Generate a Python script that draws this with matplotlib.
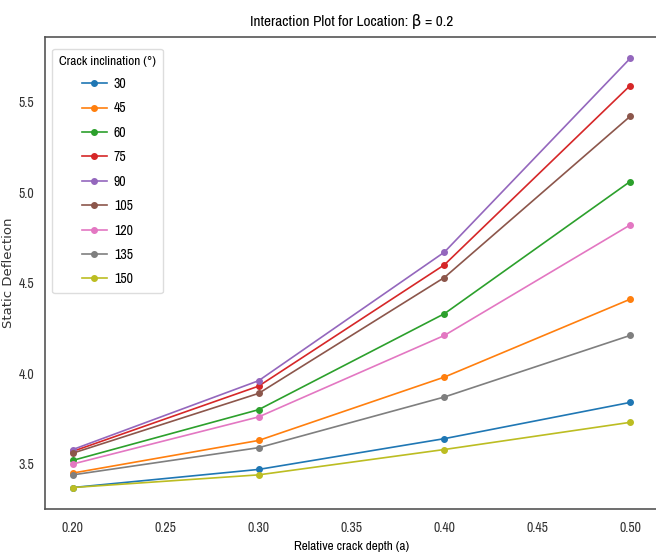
import matplotlib
matplotlib.use("Agg")
import matplotlib.pyplot as plt
from matplotlib import font_manager

# relative crack depth values on the x axis
depths = [0.20, 0.30, 0.40, 0.50]

# crack inclinations (degrees) and the static deflection for each depth
inclinations = [30, 45, 60, 75, 90, 105, 120, 135, 150]
defl_30 = [3.37, 3.47, 3.64, 3.84]
defl_45 = [3.45, 3.63, 3.98, 4.41]
defl_60 = [3.52, 3.80, 4.33, 5.06]
defl_75 = [3.57, 3.93, 4.60, 5.59]
defl_90 = [3.58, 3.96, 4.67, 5.74]
defl_105 = [3.56, 3.89, 4.53, 5.42]
defl_120 = [3.50, 3.76, 4.21, 4.82]
defl_135 = [3.44, 3.59, 3.87, 4.21]
defl_150 = [3.37, 3.44, 3.58, 3.73]
deflections = [defl_30, defl_45, defl_60, defl_75, defl_90,
               defl_105, defl_120, defl_135, defl_150]

colors = plt.get_cmap("tab10").colors

# narrow face for the labels, DejaVu as fallback for β
narrow = sorted({f.name for f in font_manager.fontManager.ttflist
                 if "Narrow" in f.name or "Condensed" in f.name})
fams = narrow[:1] + ["DejaVu Sans"]

fig = plt.figure(figsize=(6.56, 5.57), dpi=100)
ax = fig.add_axes([0.0686, 0.0862, 0.9344, 0.8474])

for inc, vals, c in zip(inclinations, deflections, colors):
    ax.plot(depths, vals, marker="o", markersize=4, linewidth=1.2,
            color=c, label=str(inc))

ax.set_title("Interaction Plot for Location: β = 0.2", fontsize=11,
             pad=8, family=fams)
ax.set_xlabel("Relative crack depth (a)", fontsize=9.5, labelpad=4, family=fams)
ax.set_ylabel("Static Deflection", fontsize=9.5, color="#333333")
ax.yaxis.set_label_coords(-0.049, 0.5)

ax.set_xticks([0.20, 0.25, 0.30, 0.35, 0.40, 0.45, 0.50])
ax.set_xticklabels(["0.20", "0.25", "0.30", "0.35", "0.40", "0.45", "0.50"])
ax.set_yticks([3.5, 4.0, 4.5, 5.0, 5.5])
ax.set_yticklabels(["3.5", "4.0", "4.5", "5.0", "5.5"])
for lbl in ax.get_xticklabels() + ax.get_yticklabels():
    lbl.set_fontsize(10)
    lbl.set_family(fams)
    lbl.set_color("#333333")
ax.tick_params(length=0)
ax.tick_params(axis="x", pad=9)
ax.tick_params(axis="y", pad=8)

for side in ax.spines.values():
    side.set_color("#555555")
    side.set_linewidth(1.2)

leg = ax.legend(title="Crack inclination (°)", loc="upper left",
                bbox_to_anchor=(0.0, 0.99),
                title_fontsize=9.5, labelspacing=0.75,
                handlelength=1.8, handletextpad=0.5, borderpad=0.5,
                framealpha=1, edgecolor="#dddddd",
                prop=dict(size=10, family=fams))
leg.get_title().set_family(fams)

fig.savefig("out.png", dpi=100)
